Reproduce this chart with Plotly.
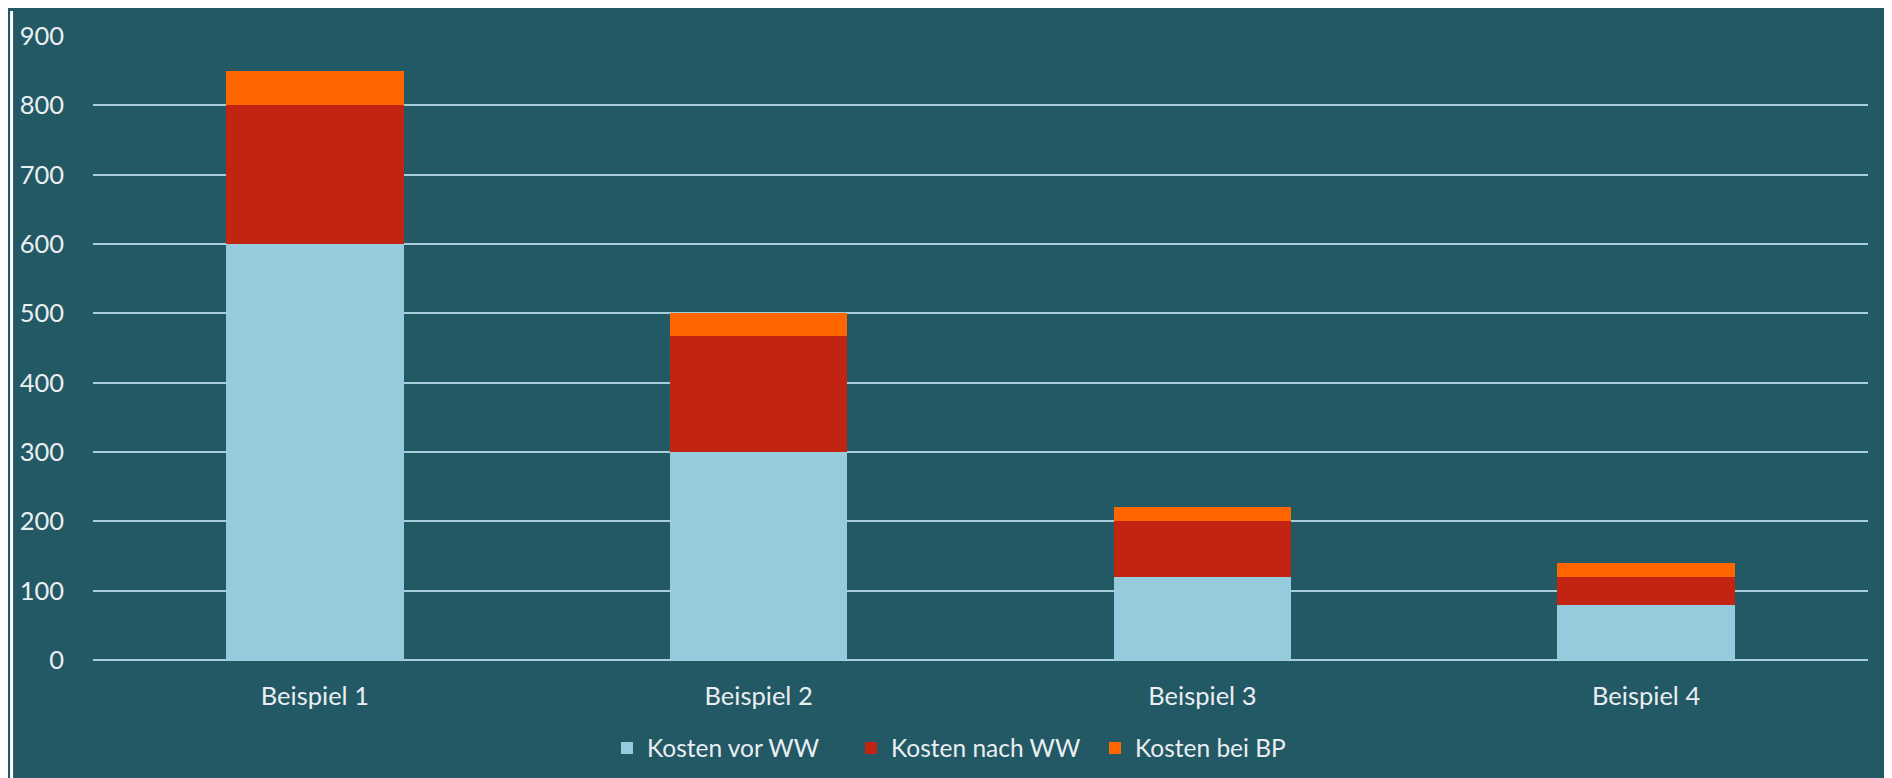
import plotly.graph_objects as go

categories = ["Beispiel 1", "Beispiel 2", "Beispiel 3", "Beispiel 4"]
kosten_vor_ww = [600, 300, 120, 80]
kosten_nach_ww = [200, 167, 80, 40]
kosten_bei_bp = [50, 33, 20, 20]
series_names = ["Kosten vor WW", "Kosten nach WW", "Kosten bei BP"]
y_ticks = [0, 100, 200, 300, 400, 500, 600, 700, 800, 900]

W, H = 1892, 778
L, R, T, B = 83, 32, 25, 126
PW, PH = W - L - R, H - T - B

BG = "#235865"
TXT = "#e9eff1"
GRID = "#a6cedb"
FONT = "Lato"

fig = go.Figure()
for name, vals, col in zip(series_names,
                           [kosten_vor_ww, kosten_nach_ww, kosten_bei_bp],
                           ["#95cbdd", "#c12511", "#ff6600"]):
    fig.add_trace(go.Bar(x=categories, y=vals, name=name,
                         marker=dict(color=col, line=dict(width=0))))

def px_x(p):
    return (p - L) / PW

def px_y(p):
    return (H - B - p) / PH

shapes = [
    dict(type="rect", xref="paper", yref="paper", x0=px_x(0), x1=px_x(3),
         y0=px_y(H), y1=px_y(0), fillcolor="white", line=dict(width=0), layer="below"),
]

fig.update_layout(
    barmode="stack",
    bargap=0.6,
    width=W, height=H,
    margin=dict(l=L, r=R, t=T, b=B, pad=0),
    paper_bgcolor=BG,
    plot_bgcolor=BG,
    font=dict(family=FONT, color=TXT, size=25),
    shapes=shapes,
    showlegend=True,
    legend=dict(orientation="h", xref="container", yref="container",
                x=965 / W, xanchor="center", y=1 - 740 / H, yanchor="middle",
                font=dict(family=FONT, size=24.5, color=TXT),
                entrywidth=199, entrywidthmode="pixels",
                traceorder="normal", bgcolor="rgba(0,0,0,0)"),
    xaxis=dict(showgrid=False, showline=False, zeroline=False, ticks="",
               tickfont=dict(family=FONT, size=25.5, color=TXT),
               ticklabelstandoff=18),
    yaxis=dict(range=[0, 900], tickvals=y_ticks, showgrid=True,
               gridcolor=GRID, gridwidth=2, zeroline=True, zerolinecolor=GRID,
               zerolinewidth=2, showline=False, ticks="",
               tickfont=dict(family=FONT, size=25.5, color=TXT),
               ticklabelstandoff=28),
)

fig.write_html("out.html")
